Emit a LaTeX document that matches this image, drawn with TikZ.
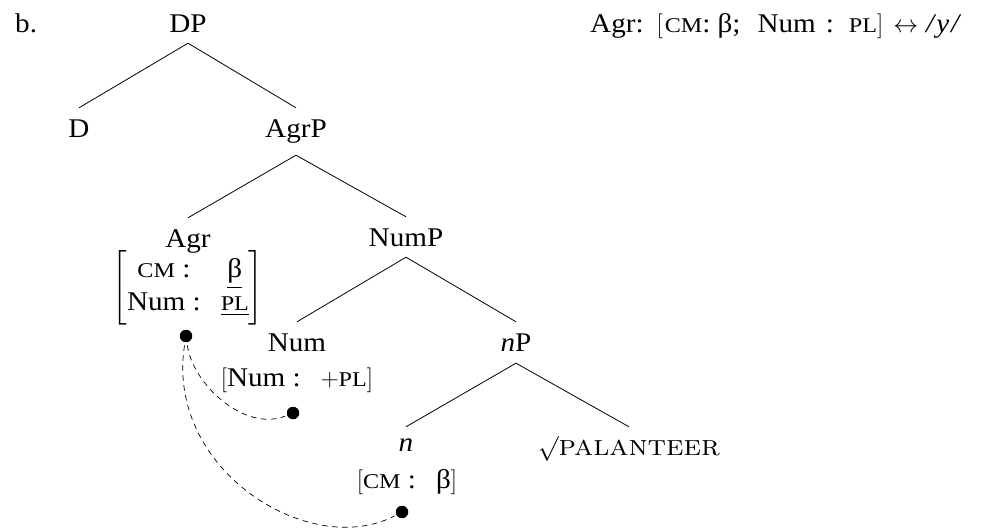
\documentclass[tikz,border=0pt]{standalone}
\usepackage{fontspec}
\usepackage{amsmath}
\usepackage{graphicx}
\setmainfont[FakeStretch=1.08]{Liberation Serif}
\newfontfamily\scfont[FakeStretch=1.15]{Liberation Serif}
\newcommand\sca[1]{{\scfont\fontsize{21}{22}\selectfont #1}}
\newcommand\lmsc[1]{\scalebox{1.08}[1]{\fontfamily{lmr}\fontsize{29}{31}\selectfont\scshape #1}}
\begin{document}
\begin{tikzpicture}[x=1pt,y=1pt,
  every node/.style={font=\fontsize{27}{32}\selectfont},
  tn/.style={anchor=base,inner xsep=0pt,inner ysep=12pt,text height=18pt,text depth=6pt},
  plain/.style={inner sep=0pt},
  branch/.style={line width=0.8pt},
  dot/.style={circle,fill=black,inner sep=0pt,minimum size=12.5pt},
  link/.style={line width=0.7pt,dash pattern=on 5.5pt off 4.5pt}]
\useasboundingbox (0,0) rectangle (986,-529);
% labels
\node[plain,anchor=base west] (b) at (15,-33) {b.};
\node[plain,anchor=base west] (rule) at (590,-33) {Agr:\hspace{13pt}$[$\hspace{2pt}\sca{CM}:\hspace{7pt}β;\hspace{17pt}Num\hspace{10pt}:\hspace{15pt}\sca{PL}$]$\hspace{10pt}$\leftrightarrow$\hspace{8pt}\textit{/\hspace{2pt}y\hspace{2pt}/}};
% tree
\node[tn] (DP) at (188,-33) {DP};
\node[tn] (D) at (79,-138) {D};
\node[tn] (AgrP) at (296,-138) {AgrP};
\node[tn] (Agr) at (188,-248) {Agr};
\node[tn] (NumP) at (406,-247) {NumP};
\node[tn] (Num) at (297,-352) {Num};
\node[tn] (nP) at (516,-352) {\textit{n}P};
\node[tn] (n) at (406,-452) {\textit{n}};
\node[tn] (root) at (629,-455) {$\surd$\lmsc{palanteer}};
% feature matrices
\node[plain] (AgrM) at (188,-288) {$\renewcommand\arraystretch{1.0}\left[\begin{array}{@{}c@{\hspace{20pt}}c@{}}\text{\sca{CM} :} & \underline{\text{β}}\\ \text{Num :} & \underline{\text{\sca{PL}}}\end{array}\right]$};
\node[plain,anchor=base] (NumM) at (297,-387) {$[$Num :\hspace{20pt}$+$\sca{PL}$]$};
\node[plain,anchor=base] (nM) at (407,-488) {$[$\sca{CM} :\hspace{20pt}β$]$};
% dots
\node[dot] (d1) at (186,-336) {};
\node[dot] (d2) at (293,-413) {};
\node[dot] (d3) at (402,-512) {};
% branches
\draw[branch] ([yshift=8pt]DP.south) -- (D.north);
\draw[branch] ([yshift=8pt]DP.south) -- (AgrP.north);
\draw[branch] ([yshift=1pt]AgrP.south) -- (Agr.north);
\draw[branch] ([yshift=1pt]AgrP.south) -- (NumP.north);
\draw[branch] ([yshift=8pt]NumP.south) -- (Num.north);
\draw[branch] ([yshift=8pt]NumP.south) -- (nP.north);
\draw[branch] ([yshift=7pt]nP.south) -- ([yshift=-5pt]n.north);
\draw[branch] ([yshift=7pt]nP.south) -- ([yshift=-2pt]root.north);
% agreement links
\draw[link,shorten <=3pt,shorten >=2pt] (d1) .. controls (193,-385) and (245,-432) .. (d2);
\draw[link,shorten <=3pt,shorten >=2pt] (d1) .. controls (165,-470) and (310,-560) .. (d3);
\end{tikzpicture}
\end{document}
